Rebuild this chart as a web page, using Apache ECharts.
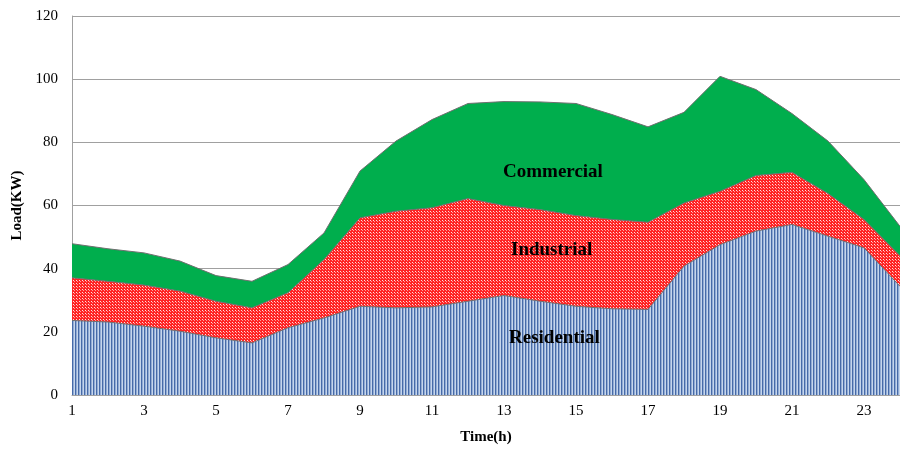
<!DOCTYPE html>
<html>
<head>
<meta charset="utf-8">
<title>Load profile</title>
<script src="https://cdn.jsdelivr.net/npm/echarts@6/dist/echarts.min.js"></script>
<style>
  html, body { margin: 0; padding: 0; background: #fff; }
  #main { width: 900px; height: 451px; }
</style>
</head>
<body>
<div id="main"></div>
<script>
;(function(){
	'use strict';

	// hours 1..24
	var hours = ['1','2','3','4','5','6','7','8','9','10','11','12','13','14','15','16','17','18','19','20','21','22','23','24'];
	// load of each sector, KW
	var residential = [23.6,23.1,21.8,20.2,18.1,16.5,21.3,24.4,28.1,27.6,27.9,29.7,31.5,29.7,28.1,27.3,27.1,40.8,47.6,51.9,54.0,50.3,46.6,34.4];
	var industrial  = [13.5,12.9,13.0,12.7,11.6,11.1,11.1,18.5,28.0,30.6,31.4,32.5,28.5,29.0,28.7,28.3,27.6,20.0,16.9,17.6,16.5,13.5,9.0,9.7];
	var commercial  = [10.8,10.3,10.2,9.5,8.1,8.4,8.9,8.4,14.8,22.2,27.9,30.1,32.9,34.1,35.5,33.2,30.2,28.7,36.4,27.2,18.6,16.6,12.6,9.3];

	var serif = '"Liberation Serif", "DejaVu Serif", serif';

	// vertical blue stripes
	function stripes(){
		var c = document.createElement('canvas');
		c.width = 3; c.height = 4;
		var ctx = c.getContext('2d');
		ctx.fillStyle = '#c6d6ec';
		ctx.fillRect(0, 0, 3, 4);
		ctx.fillStyle = '#466aa8';
		ctx.fillRect(0, 0, 1, 4);
		ctx.fillStyle = '#93acd4';
		ctx.fillRect(1, 0, 1, 4);
		return c;
	}

	// red / white checker
	function checker(){
		var c = document.createElement('canvas');
		c.width = 3; c.height = 3;
		var ctx = c.getContext('2d');
		ctx.fillStyle = '#ff2424';
		ctx.fillRect(0, 0, 3, 3);
		ctx.fillStyle = '#ffe0e0';
		ctx.fillRect(1, 1, 1, 1);
		ctx.fillStyle = '#ff9a9a';
		ctx.fillRect(2, 2, 1, 1);
		return c;
	}

	function area(name, data, fill){
		return {
			name: name,
			type: 'line',
			stack: 'load',
			data: data,
			symbol: 'none',
			smooth: false,
			lineStyle: { color: '#6f6f6f', width: 1 },
			areaStyle: { color: fill, opacity: 1 },
			z: 2
		};
	}

	var chart = echarts.init(document.getElementById('main'));
	var option = {
		animation: false,
		backgroundColor: '#fff',
		grid: { left: 72, top: 16, width: 836, height: 379 },
		xAxis: {
			type: 'category',
			data: hours,
			boundaryGap: false,
			name: 'Time(h)',
			nameLocation: 'middle',
			nameGap: 35,
			nameTextStyle: { fontFamily: serif, fontWeight: 'bold', fontSize: 15, color: '#000' },
			axisLine: { lineStyle: { color: '#a0a0a0' } },
			axisTick: { show: false },
			axisLabel: { interval: 1, margin: 9, fontFamily: serif, fontSize: 15, color: '#000' },
			splitLine: { show: false }
		},
		yAxis: {
			type: 'value',
			min: 0,
			max: 120,
			interval: 20,
			name: 'Load(KW)',
			nameLocation: 'middle',
			nameGap: 39,
			nameRotate: 90,
			nameTextStyle: { fontFamily: serif, fontWeight: 'bold', fontSize: 15, color: '#000' },
			axisLine: { show: true, lineStyle: { color: '#a0a0a0' } },
			axisTick: { show: false },
			axisLabel: { margin: 14, fontFamily: serif, fontSize: 15, color: '#000' },
			splitLine: { lineStyle: { color: '#a0a0a0', width: 1 } }
		},
		series: [
			area('Residential', residential, { image: stripes(), repeat: 'repeat' }),
			area('Industrial', industrial, { image: checker(), repeat: 'repeat' }),
			area('Commercial', commercial, '#00ae4d')
		],
		graphic: [
			{ type: 'text', left: 503, top: 163, z: 10, style: { text: 'Commercial', font: 'bold 19px ' + serif, fill: '#000' } },
			{ type: 'text', left: 511, top: 241, z: 10, style: { text: 'Industrial', font: 'bold 19px ' + serif, fill: '#000' } },
			{ type: 'text', left: 509, top: 329, z: 10, style: { text: 'Residential', font: 'bold 19px ' + serif, fill: '#000' } }
		]
	};
	chart.setOption(option);
})();
</script>
</body>
</html>
